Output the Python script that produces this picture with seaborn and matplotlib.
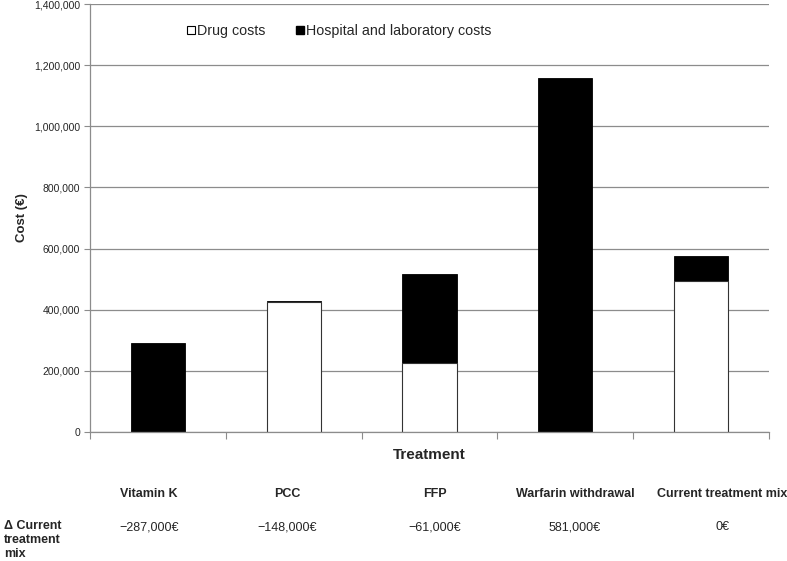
import numpy as np
import pandas as pd
import matplotlib
matplotlib.use("Agg")
import matplotlib.pyplot as plt
from matplotlib.patches import Patch
import seaborn as sns

# Chart data
treatments = ["Vitamin K", "PCC", "FFP", "Warfarin withdrawal", "Current treatment mix"]
drug_costs = [0, 425000, 225000, 0, 494000]
hospital_costs = [290000, 4000, 291000, 1158000, 83000]
delta_labels = ["\u2212287,000\u20ac", "\u2212148,000\u20ac", "\u221261,000\u20ac", "581,000\u20ac", "0\u20ac"]
y_ticks = [0, 200000, 400000, 600000, 800000, 1000000, 1200000, 1400000]

# layout of the table under the chart (pixel columns in the 787x561 figure)
W, H = 787, 561
table_cols_px = [149, 287, 435, 575, 722]

sns.set_theme(style="white")
plt.rcParams['font.family'] = ['Liberation Sans', 'DejaVu Sans']

df = pd.DataFrame({"treatment": treatments,
                   "drug": drug_costs,
                   "hospital": hospital_costs})
df["total"] = df["drug"] + df["hospital"]

fig = plt.figure(figsize=(W / 100, H / 100), dpi=100)
ax = fig.add_axes([90 / W, 1 - 432 / H, 679 / W, 428 / H])

# Stacked bars: full total in black, drug share drawn over it in white
sns.barplot(data=df, x="treatment", y="total", color="black", width=0.4,
            edgecolor="black", linewidth=0.6, saturation=1, ax=ax)
sns.barplot(data=df, x="treatment", y="drug", color="white", width=0.4,
            edgecolor="#333333", linewidth=0.8, saturation=1, ax=ax)

ax.set_ylim(0, 1400000)
ax.set_xlim(-0.5, len(treatments) - 0.5)
ax.set_yticks(y_ticks)
ax.set_yticklabels([f"{v:,}" for v in y_ticks], fontsize=7.5)
ax.yaxis.grid(True, color="#8c8c8c", linewidth=0.9)
ax.set_axisbelow(True)

# x ticks at the category boundaries, no labels (names go in the table below)
ax.set_xticks(np.arange(-0.5, len(treatments), 1.0))
ax.set_xticklabels([])
ax.tick_params(axis="x", direction="out", length=5, width=0.8, color="#8c8c8c", bottom=True)
ax.tick_params(axis="y", direction="out", length=4, width=0.8, color="#8c8c8c", left=True, pad=3)

for side in ["top", "right"]:
    ax.spines[side].set_visible(False)
for side in ["left", "bottom"]:
    ax.spines[side].set_color("#8c8c8c")
    ax.spines[side].set_linewidth(0.9)

ax.set_xlabel("Treatment", fontsize=11, fontweight="bold", labelpad=3)
ax.set_ylabel("Cost (\u20ac)", fontsize=9.5, fontweight="bold")
ax.yaxis.set_label_coords((28 - 90) / 679, 0.5)

handles = [Patch(facecolor="white", edgecolor="black", linewidth=0.8, label="Drug costs"),
           Patch(facecolor="black", edgecolor="black", label="Hospital and laboratory costs")]
ax.legend(handles=handles, loc="center left", bbox_to_anchor=((187 - 90) / 679, 1 - 27 / 428),
          ncol=2, frameon=False, fontsize=10.3, handlelength=0.56, handleheight=0.56,
          handletextpad=0.15, columnspacing=2.1, borderpad=0, borderaxespad=0)

# Table under the chart
for x_px, name, delta in zip(table_cols_px, treatments, delta_labels):
    fig.text(x_px / W, 1 - 494 / H, name, ha="center", va="center",
             fontsize=9, fontweight="bold")
    fig.text(x_px / W, 1 - 527 / H, delta, ha="center", va="center", fontsize=9)
fig.text(4 / W, 1 - 520 / H, "\u0394 Current\ntreatment\nmix", ha="left", va="top",
         fontsize=9, fontweight="bold", linespacing=1.2)

fig.savefig("out.png", dpi=100)
